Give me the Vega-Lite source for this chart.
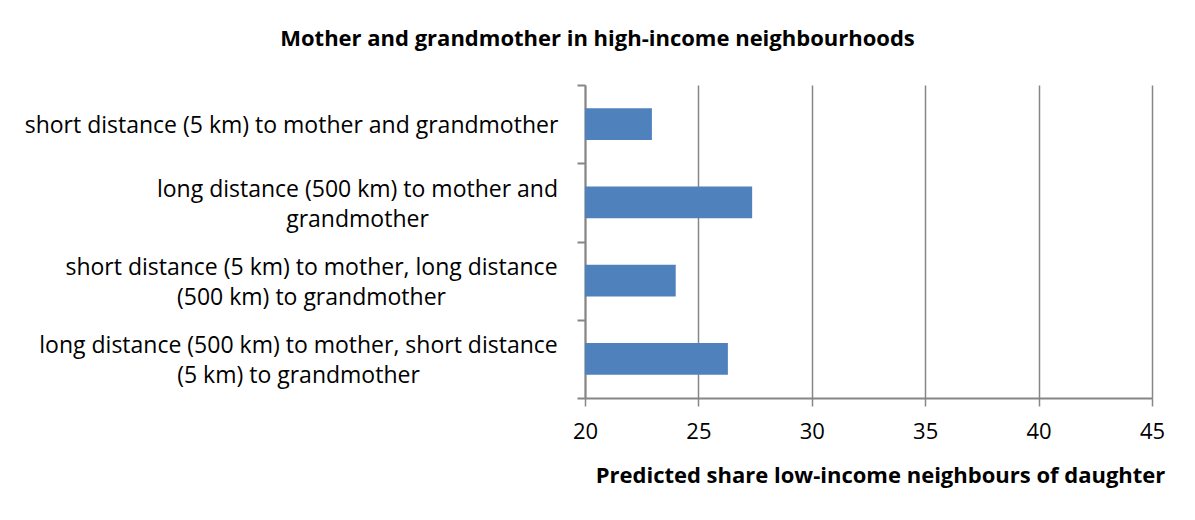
{
  "$schema": "https://vega.github.io/schema/vega-lite/v6.json",
  "width": 567,
  "height": 313,
  "autosize": {"type": "none"},
  "padding": {"left": 585, "top": 85, "right": 43, "bottom": 122},
  "background": "white",
  "title": {
    "text": "Mother and grandmother in high-income neighbourhoods",
    "font": "Open Sans",
    "fontSize": 22,
    "fontWeight": "bold",
    "color": "black",
    "anchor": "middle",
    "dx": -271,
    "offset": 10
  },
  "data": {
    "values": [
      {"scenario": "short distance (5 km) to mother and grandmother", "share": 22.95},
      {"scenario": "long distance (500 km) to mother and|grandmother", "share": 27.37},
      {"scenario": "short distance (5 km) to mother, long distance|(500 km) to grandmother", "share": 24.0},
      {"scenario": "long distance (500 km) to mother, short distance|(5 km) to grandmother", "share": 26.3}
    ]
  },
  "mark": {"type": "bar", "color": "#4F81BD", "height": {"band": 0.405}},
  "encoding": {
    "y": {
      "field": "scenario",
      "type": "nominal",
      "sort": null,
      "scale": {"paddingInner": 0, "paddingOuter": 0},
      "axis": {
        "title": null,
        "labelExpr": "split(datum.label, '|')",
        "labelFont": "Open Sans",
        "labelFontSize": 23,
        "labelColor": "black",
        "labelLimit": 0,
        "labelAlign": "center",
        "labelPadding": 18,
        "labelLineHeight": 30,
        "tickSize": 8,
        "tickColor": "#868686",
        "tickWidth": 2,
        "domainColor": "#868686",
        "domainWidth": 2,
        "tickBand": "extent",
        "encoding": {
          "labels": {
            "dx": {"value": {"expr": "datum.value === 'short distance (5 km) to mother and grandmother' ? -268 : datum.value === 'long distance (500 km) to mother and|grandmother' ? -202 : datum.value === 'short distance (5 km) to mother, long distance|(500 km) to grandmother' ? -248 : -261"}},
            "dy": {"value": {"expr": "datum.value === 'short distance (5 km) to mother and grandmother' ? 1 : -13"}}
          }
        }
      }
    },
    "x": {
      "field": "share",
      "type": "quantitative",
      "scale": {"domain": [20, 45], "nice": false, "zero": false},
      "axis": {
        "values": [20, 25, 30, 35, 40, 45],
        "grid": true,
        "gridColor": "#868686",
        "gridWidth": 1.5,
        "tickColor": "#868686",
        "tickSize": 8,
        "tickWidth": 1.5,
        "domainColor": "#868686",
        "domainWidth": 2,
        "labelFont": "Open Sans",
        "labelFontSize": 22,
        "labelColor": "black",
        "labelPadding": 15,
        "labelFlush": false,
        "title": "Predicted share low-income neighbours of daughter",
        "titleFont": "Open Sans",
        "titleFontSize": 22,
        "titleFontWeight": "bold",
        "titleColor": "black",
        "titleX": 295,
        "titleAlign": "center",
        "titlePadding": 23
      }
    },
    "x2": {"datum": 20}
  },
  "config": {"view": {"stroke": null}}
}
